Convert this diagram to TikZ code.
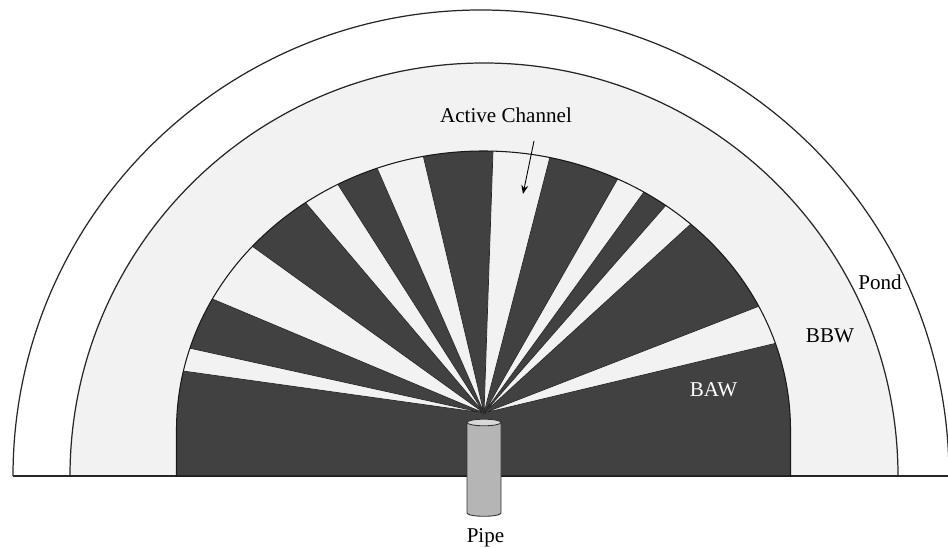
\documentclass[tikz,border=0pt]{standalone}
\usepackage{fontspec}
\setmainfont{Liberation Serif}
\usetikzlibrary{calc, arrows.meta}
\definecolor{baw area}{HTML}{414141}
\definecolor{bbw area}{HTML}{F2F2F2}
\definecolor{pipe body}{HTML}{B5B5B5}
\definecolor{pipe top}{HTML}{D8D8D8}
\newcommand{\bawoutline}{(176.5,0) -- (176.5,46) arc[start angle=180, end angle=0, x radius=307, y radius=279] -- (790.5,0) -- cycle}
\tikzset{
  rim/.style={draw=black!85, line width=0.7pt},
  bbwzone/.style={rim, fill=bbw area},
  bawzone/.style={fill=baw area},
  bawedge/.style={draw=black!90, line width=0.6pt},
  channel/.style={fill=bbw area, draw=black!85, line width=0.4pt},
  pipewall/.style={draw=black!80, line width=0.5pt, fill=pipe body},
  pipeend/.style={draw=black!80, line width=0.5pt, fill=pipe top},
  zonelabel/.style={font=\fontsize{12}{14}\selectfont, inner sep=0pt, anchor=base},
  pointer/.style={-{Stealth[length=5pt, width=4pt]}, line width=0.5pt}
}

\begin{document}
\begin{tikzpicture}[x=0.02cm, y=0.02cm]
  \useasboundingbox (0,-72) rectangle (948,476);
  \draw[rim] (13,0) arc[start angle=180, end angle=0, x radius=468, y radius=466];
  \draw[bbwzone] (70,0) arc[start angle=180, end angle=0, x radius=414, y radius=413] -- cycle;
  \draw[rim] (13,0) -- (948,0);
  \coordinate (apex) at (484,63);
  \fill[bawzone] \bawoutline;
  \begin{scope}
    \clip \bawoutline;
    \foreach \xa/\ya/\xb/\yb in {183/105/189/128, 210/178/252/230, 305/274/337/293,
        377/308/423/321, 493/325/550/319, 617/296/644/284, 667/272/692/253, 762/171/777/133}
      \filldraw[channel] (apex) -- ($(apex)!1.2!(\xa,\ya)$) -- ($(apex)!1.2!(\xb,\yb)$) -- cycle;
  \end{scope}
  \draw[bawedge] \bawoutline;
  \filldraw[pipewall] (467,53.5) -- (467,-37) arc[start angle=180, end angle=360, x radius=17, y radius=3.3] -- (501,53.5) -- cycle;
  \filldraw[pipeend] (484,53.5) ellipse[x radius=17, y radius=3.3];
  \node[zonelabel] (active) at (506,353) {Active Channel};
  \node[zonelabel] (pond) at (880,186) {Pond};
  \node[zonelabel] (bbw) at (830,133) {BBW};
  \node[zonelabel, text=white] (baw) at (713.5,79) {BAW};
  \node[zonelabel] (pipe) at (485.5,-66.7) {Pipe};
  \coordinate (channeltail) at (534,335);
  \coordinate (channeltip) at (523,282);
  \draw[pointer] (channeltail) -- (channeltip);
\end{tikzpicture}
\end{document}
